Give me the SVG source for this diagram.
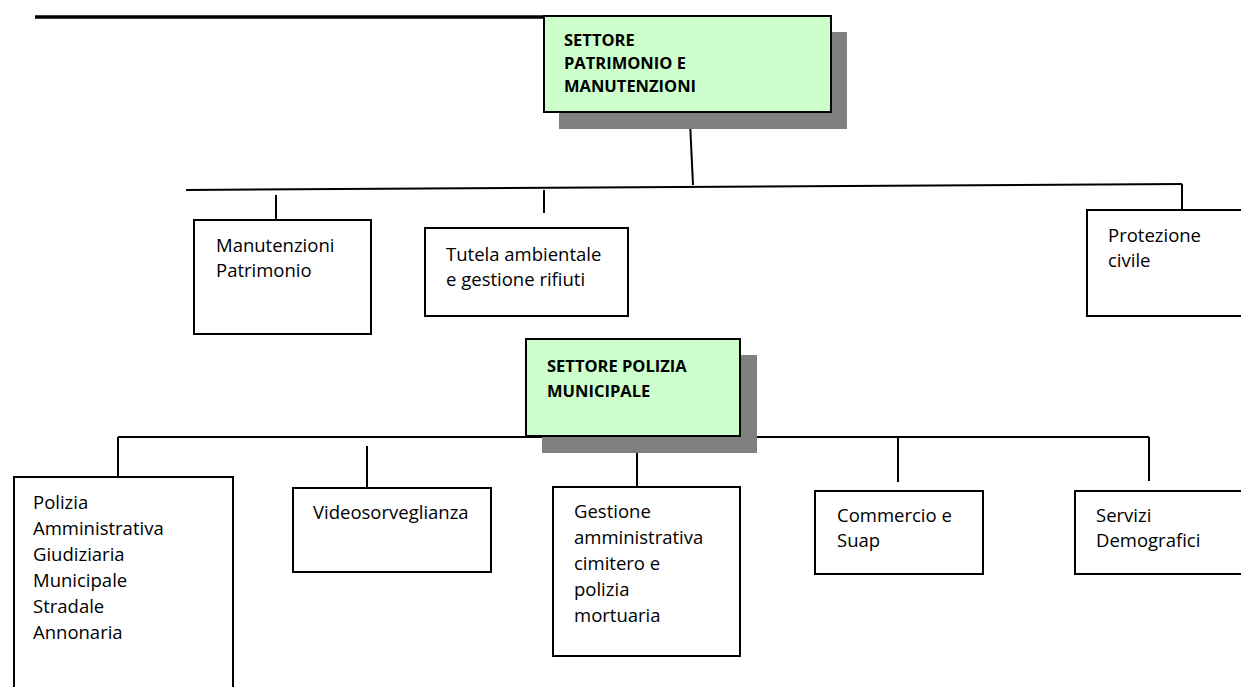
<svg xmlns="http://www.w3.org/2000/svg" width="1241" height="687" viewBox="0 0 1241 687">
  <style>
    .shadow { fill: #808080; }
    .sector { fill: #ccffcc; stroke: #000; stroke-width: 2; }
    .unit { fill: #fff; stroke: #000; stroke-width: 2; }
    .link { stroke: #000; stroke-width: 2; fill: none; }
    .heavy { stroke-width: 3.5; }
    .t { font-family: "Open Sans", "Liberation Sans", sans-serif; font-size: 18.5px; fill: #000; }
    .tb { font-family: "Open Sans", "Liberation Sans", sans-serif; font-size: 16.5px; font-weight: bold; fill: #000; }
  </style>

  <rect width="1241" height="687" fill="#fff"/>

  <!-- connectors -->
  <g id="connectors">
    <line class="link heavy" x1="35" y1="17" x2="544" y2="17"/>
    <line class="link" x1="690" y1="122" x2="693" y2="185"/>
    <line class="link" x1="186" y1="190" x2="1182" y2="184"/>
    <line class="link" x1="276" y1="195" x2="276" y2="227"/>
    <line class="link" x1="544" y1="190" x2="544" y2="213"/>
    <line class="link" x1="1182" y1="184" x2="1182" y2="210"/>
    <line class="link" x1="118" y1="437" x2="1149" y2="437"/>
    <line class="link" x1="118" y1="437" x2="118" y2="477"/>
    <line class="link" x1="367" y1="446" x2="367" y2="490"/>
    <line class="link" x1="637" y1="446" x2="637" y2="488"/>
    <line class="link" x1="898" y1="437" x2="898" y2="482"/>
    <line class="link" x1="1149" y1="437" x2="1149" y2="481"/>
  </g>

  <!-- sector: Patrimonio e Manutenzioni -->
  <g id="settore-patrimonio">
    <rect class="shadow" x="559" y="32" width="288" height="97"/>
    <rect class="sector" x="544" y="16" width="287" height="96"/>
    <text class="tb" x="564" y="46">SETTORE</text>
    <text class="tb" x="564" y="69">PATRIMONIO E</text>
    <text class="tb" x="564" y="92">MANUTENZIONI</text>
  </g>

  <g id="manutenzioni">
    <rect class="unit" x="194" y="220" width="177" height="114"/>
    <text class="t" x="216" y="252">Manutenzioni</text>
    <text class="t" x="216" y="277">Patrimonio</text>
  </g>

  <g id="tutela">
    <rect class="unit" x="425" y="228" width="203" height="88"/>
    <text class="t" x="446" y="261">Tutela ambientale</text>
    <text class="t" x="446" y="286">e gestione rifiuti</text>
  </g>

  <g id="protezione">
    <rect class="unit" x="1087" y="210" width="170" height="106"/>
    <text class="t" x="1108" y="242">Protezione</text>
    <text class="t" x="1108" y="267">civile</text>
  </g>

  <!-- sector: Polizia Municipale -->
  <g id="settore-polizia">
    <rect class="shadow" x="542" y="355" width="215" height="98"/>
    <rect class="sector" x="526" y="339" width="214" height="97"/>
    <text class="tb" x="547" y="372">SETTORE POLIZIA</text>
    <text class="tb" x="547" y="397">MUNICIPALE</text>
  </g>

  <g id="polizia">
    <rect class="unit" x="14" y="477" width="219" height="230"/>
    <text class="t" x="33" y="509">Polizia</text>
    <text class="t" x="33" y="535">Amministrativa</text>
    <text class="t" x="33" y="561">Giudiziaria</text>
    <text class="t" x="33" y="587">Municipale</text>
    <text class="t" x="33" y="613">Stradale</text>
    <text class="t" x="33" y="639">Annonaria</text>
  </g>

  <g id="videosorveglianza">
    <rect class="unit" x="293" y="488" width="198" height="84"/>
    <text class="t" x="313" y="519">Videosorveglianza</text>
  </g>

  <g id="cimitero">
    <rect class="unit" x="553" y="487" width="187" height="169"/>
    <text class="t" x="574" y="518">Gestione</text>
    <text class="t" x="574" y="544">amministrativa</text>
    <text class="t" x="574" y="570">cimitero e</text>
    <text class="t" x="574" y="596">polizia</text>
    <text class="t" x="574" y="622">mortuaria</text>
  </g>

  <g id="commercio">
    <rect class="unit" x="815" y="491" width="168" height="83"/>
    <text class="t" x="837" y="522">Commercio e</text>
    <text class="t" x="837" y="547">Suap</text>
  </g>

  <g id="demografici">
    <rect class="unit" x="1075" y="491" width="180" height="83"/>
    <text class="t" x="1096" y="522">Servizi</text>
    <text class="t" x="1096" y="547">Demografici</text>
  </g>
</svg>
